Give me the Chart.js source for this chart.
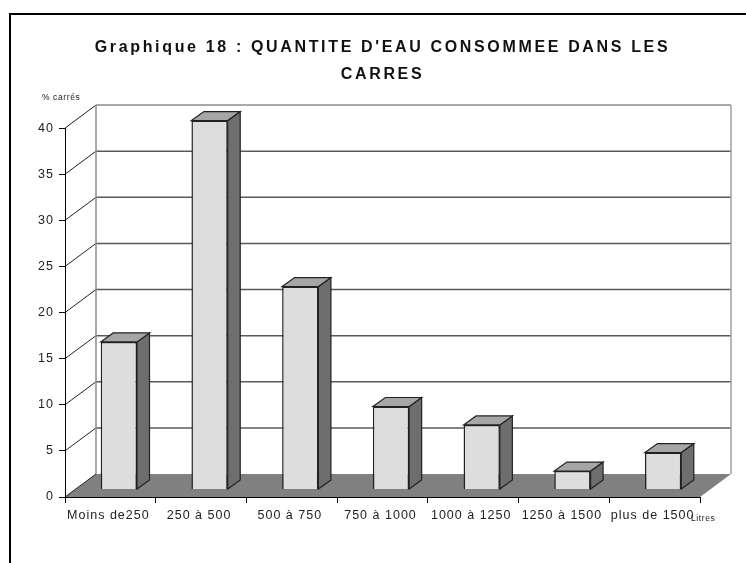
<!DOCTYPE html>
<html>
<head>
<meta charset="utf-8">
<title>Graphique 18</title>
<style>
  html, body { margin: 0; padding: 0; background: #fff; overflow: hidden; }
  canvas { display: block; }
</style>
<script src="https://cdn.jsdelivr.net/npm/chart.js@4"></script>
</head>
<body>
<canvas id="chart" width="746" height="563"></canvas>
<script>
const TITLE_LINES = ["Graphique 18 : QUANTITE D'EAU CONSOMMEE DANS LES", 'CARRES'];
const CATEGORIES = ['Moins de250', '250 à 500', '500 à 750', '750 à 1000', '1000 à 1250', '1250 à 1500', 'plus de 1500'];
const PERCENT_CARRES = [16, 40, 22, 9, 7, 2, 4];
const Y_AXIS_NAME = '% carrés';
const X_AXIS_NAME = 'Litres';

const FONT = "'Liberation Sans', Arial, sans-serif";
const FACE = '#dddddd';
const TOP = '#a6a6a6';
const SIDE = '#6e6e6e';
const FLOOR = '#808080';
const WALL_LINE = '#5a5a5a';
const EDGE = '#222222';

// depth of the fake 3d box, and of the bars inside it
const WALL_DX = 31;
const WALL_DY = -23;
const BAR_DX = 8.5;
const BAR_DY = -7.5;
const BAR_DEPTH_X = 12.5;
const BAR_DEPTH_Y = -9;

function poly(ctx, pts, fill, stroke, width) {
  ctx.beginPath();
  pts.forEach((p, i) => (i ? ctx.lineTo(p[0], p[1]) : ctx.moveTo(p[0], p[1])));
  ctx.closePath();
  if (fill) { ctx.fillStyle = fill; ctx.fill(); }
  if (stroke) { ctx.strokeStyle = stroke; ctx.lineWidth = width || 1; ctx.stroke(); }
}

function line(ctx, x1, y1, x2, y2, color, width) {
  ctx.beginPath();
  ctx.moveTo(x1, y1);
  ctx.lineTo(x2, y2);
  ctx.strokeStyle = color;
  ctx.lineWidth = width || 1;
  ctx.stroke();
}

const box3d = {
  id: 'box3d',
  afterLayout(chart) {
    // title is more widely spaced than the axis labels
    const block = chart.titleBlock;
    if (block && !block._spaced) {
      const draw = block.draw;
      block.draw = function () {
        chart.ctx.letterSpacing = '2.65px';
        draw.call(block);
        chart.ctx.letterSpacing = '1px';
      };
      block._spaced = true;
    }
  },
  afterDatasetsUpdate(chart) {
    // push the bars back into the box
    chart.getDatasetMeta(0).data.forEach((bar) => {
      bar.x += BAR_DX;
      bar.y += BAR_DY;
      bar.base += BAR_DY;
    });
  },
  beforeDraw(chart) {
    const { ctx, chartArea: a, scales: { y } } = chart;
    ctx.save();
    // page frame, runs off the right and bottom of the picture
    ctx.beginPath();
    ctx.moveTo(10, 563);
    ctx.lineTo(10, 14);
    ctx.lineTo(746, 14);
    ctx.strokeStyle = '#000';
    ctx.lineWidth = 2;
    ctx.stroke();

    // floor
    const y0 = y.getPixelForValue(0);
    poly(ctx, [[a.left, y0], [a.left + WALL_DX, y0 + WALL_DY], [a.right + WALL_DX, y0 + WALL_DY], [a.right, y0]], FLOOR);

    // walls
    const backL = a.left + WALL_DX;
    const backR = a.right + WALL_DX;
    y.ticks.forEach((t) => {
      const py = y.getPixelForValue(t.value);
      line(ctx, a.left, py, backL, py + WALL_DY, '#222', 1);
      if (t.value > 0) {
        line(ctx, backL, py + WALL_DY, backR, py + WALL_DY, t.value === y.max ? '#8c8c8c' : WALL_LINE, 1.5);
      }
    });
    const top = y.getPixelForValue(y.max) + WALL_DY;
    line(ctx, backL, top, backL, y0 + WALL_DY, '#8c8c8c', 1.5);
    line(ctx, backR, top, backR, y0 + WALL_DY, '#a0a0a0', 1.5);
    ctx.restore();
    ctx.letterSpacing = '1px';
  },
  beforeDatasetDraw(chart) {
    const ctx = chart.ctx;
    ctx.save();
    chart.getDatasetMeta(0).data.forEach((bar) => {
      const l = bar.x - bar.width / 2;
      const r = bar.x + bar.width / 2;
      poly(ctx, [[r, bar.y], [r + BAR_DEPTH_X, bar.y + BAR_DEPTH_Y], [r + BAR_DEPTH_X, bar.base + BAR_DEPTH_Y], [r, bar.base]], SIDE, EDGE, 1.2);
      poly(ctx, [[l, bar.y], [l + BAR_DEPTH_X, bar.y + BAR_DEPTH_Y], [r + BAR_DEPTH_X, bar.y + BAR_DEPTH_Y], [r, bar.y]], TOP, EDGE, 1.2);
    });
    ctx.restore();
  },
  afterDraw(chart) {
    const ctx = chart.ctx;
    ctx.save();
    ctx.letterSpacing = '0.6px';
    ctx.fillStyle = '#222';
    ctx.font = '8.5px ' + FONT;
    ctx.textBaseline = 'middle';
    ctx.textAlign = 'left';
    ctx.fillText(Y_AXIS_NAME, 42, 98);
    ctx.fillText(X_AXIS_NAME, 691, 519);
    ctx.restore();
  },
};

new Chart(document.getElementById('chart'), {
  type: 'bar',
  data: {
    labels: CATEGORIES,
    datasets: [{
      data: PERCENT_CARRES,
      backgroundColor: FACE,
      borderColor: EDGE,
      borderWidth: 1.5,
      categoryPercentage: 1,
      barPercentage: 0.4,
      clip: false,
    }],
  },
  plugins: [box3d],
  options: {
    responsive: false,
    animation: false,
    layout: { padding: { left: 0, right: 46, top: 0, bottom: 0 } },
    plugins: {
      legend: { display: false },
      tooltip: { enabled: false },
      title: {
        display: true,
        fullSize: false,
        text: TITLE_LINES,
        color: '#111',
        font: { family: FONT, size: 16, weight: 'bold', lineHeight: 1.69 },
        padding: { top: 34, bottom: 40 },
      },
    },
    scales: {
      x: {
        grid: { drawOnChartArea: false, color: '#000', tickLength: 6 },
        border: { color: '#000', width: 1 },
        ticks: {
          color: '#222',
          font: { family: FONT, size: 12.5 },
          autoSkip: false,
          maxRotation: 0,
          minRotation: 0,
          padding: 5,
          labelOffset: -2,
        },
        afterFit: (s) => { s.height = 66; },
      },
      y: {
        min: 0,
        max: 40,
        grid: { drawOnChartArea: false, color: '#000', tickLength: 6 },
        border: { color: '#000', width: 1 },
        ticks: {
          stepSize: 5,
          color: '#222',
          font: { family: FONT, size: 12.5 },
          padding: 5,
        },
        afterFit: (s) => { s.width = 65; },
      },
    },
  },
});
</script>
</body>
</html>
